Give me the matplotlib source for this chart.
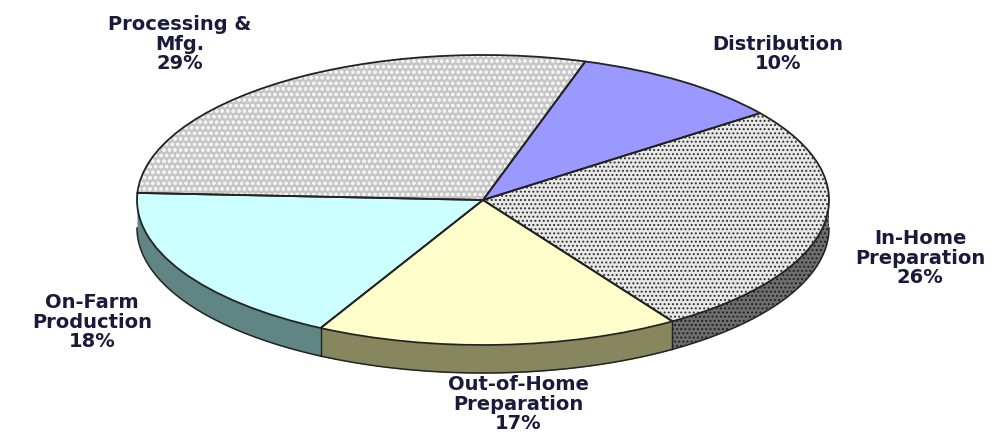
import numpy as np
import matplotlib
matplotlib.use("Agg")
import matplotlib.pyplot as plt

# ==========================================
# DATA
# ==========================================
labels = ["Processing &\nMfg.\n29%", "Distribution\n10%", "In-Home\nPreparation\n26%",
          "Out-of-Home\nPreparation\n17%", "On-Farm\nProduction\n18%"]
values = [29, 10, 26, 17, 18]
top_colors = ["#c6c6c6", "#9999ff", "#e8e8e8", "#ffffcc", "#ccffff"]
side_colors = ["#808080", "#4d4d80", "#6e6e6e", "#86865f", "#5f8585"]
hatch_colors = ["#f2f2f2", None, "#2e2e2e", None, None]
hatches = ["ooo", None, "....", None, None]
label_pos = [(180, 44), (778, 54), (920, 258), (518, 404), (92, 322)]

# ==========================================
# LAYOUT (pixels of the 1006x434 picture)
# ==========================================
W, H = 1006, 434
CX, CY = 483, 200
RX, RY = 346, 145
DEPTH = 28 / RY
START = 177.2

plt.rcParams["hatch.linewidth"] = 0.9

fig = plt.figure(figsize=(W / 100, H / 100), dpi=100)
ax = fig.add_axes([0, 0, 1, 1])

# 1. Side wall of the pie, only the part facing the viewer
ends = START - np.cumsum(values) / sum(values) * 360
starts = np.r_[START, ends[:-1]]
for a0, a1, col, h in zip(starts, ends, side_colors, hatches):
    lo, hi = max(a1, -180), min(a0, 0)
    if lo >= hi:
        continue
    t = np.radians(np.linspace(lo, hi, 80))
    if h:
        ax.fill_between(np.cos(t), np.sin(t), np.sin(t) - DEPTH, facecolor=col,
                        edgecolor="#1c1c1c", hatch="....", linewidth=0, zorder=1)
    else:
        ax.fill_between(np.cos(t), np.sin(t), np.sin(t) - DEPTH, color=col, linewidth=0, zorder=1)
    ax.plot(np.cos(t), np.sin(t) - DEPTH, color="#222222", lw=1.1, zorder=2)
    if hi < 0:
        ax.plot([np.cos(t[-1])] * 2, [np.sin(t[-1]), np.sin(t[-1]) - DEPTH], color="#222222", lw=1.0, zorder=2)

# 2. Top face, filled and hatched
wedges, _ = ax.pie(values, startangle=START, counterclock=False, colors=top_colors,
                   radius=1, center=(0, 0), wedgeprops={"linewidth": 0})
for w, hc, h in zip(wedges, hatch_colors, hatches):
    w.set_zorder(3)
    if h:
        w.set_hatch(h)
        w.set_edgecolor(hc)

# 3. Outlines on top
outl, _ = ax.pie(values, startangle=START, counterclock=False, radius=1, center=(0, 0),
                 wedgeprops={"facecolor": "none", "edgecolor": "#222222", "linewidth": 1.3})
for w in outl:
    w.set_zorder(4)

ax.set_aspect("auto")
ax.set_xlim(-CX / RX, (W - CX) / RX)
ax.set_ylim((CY - H) / RY, CY / RY)
ax.axis("off")

# 4. Labels
for txt, (x, y) in zip(labels, label_pos):
    fig.text(x / W, 1 - y / H, txt, ha="center", va="center", fontsize=14,
             family="DejaVu Sans", fontweight="bold", color="#1a1a3c", linespacing=1.04)

fig.savefig("out.png", dpi=100)
